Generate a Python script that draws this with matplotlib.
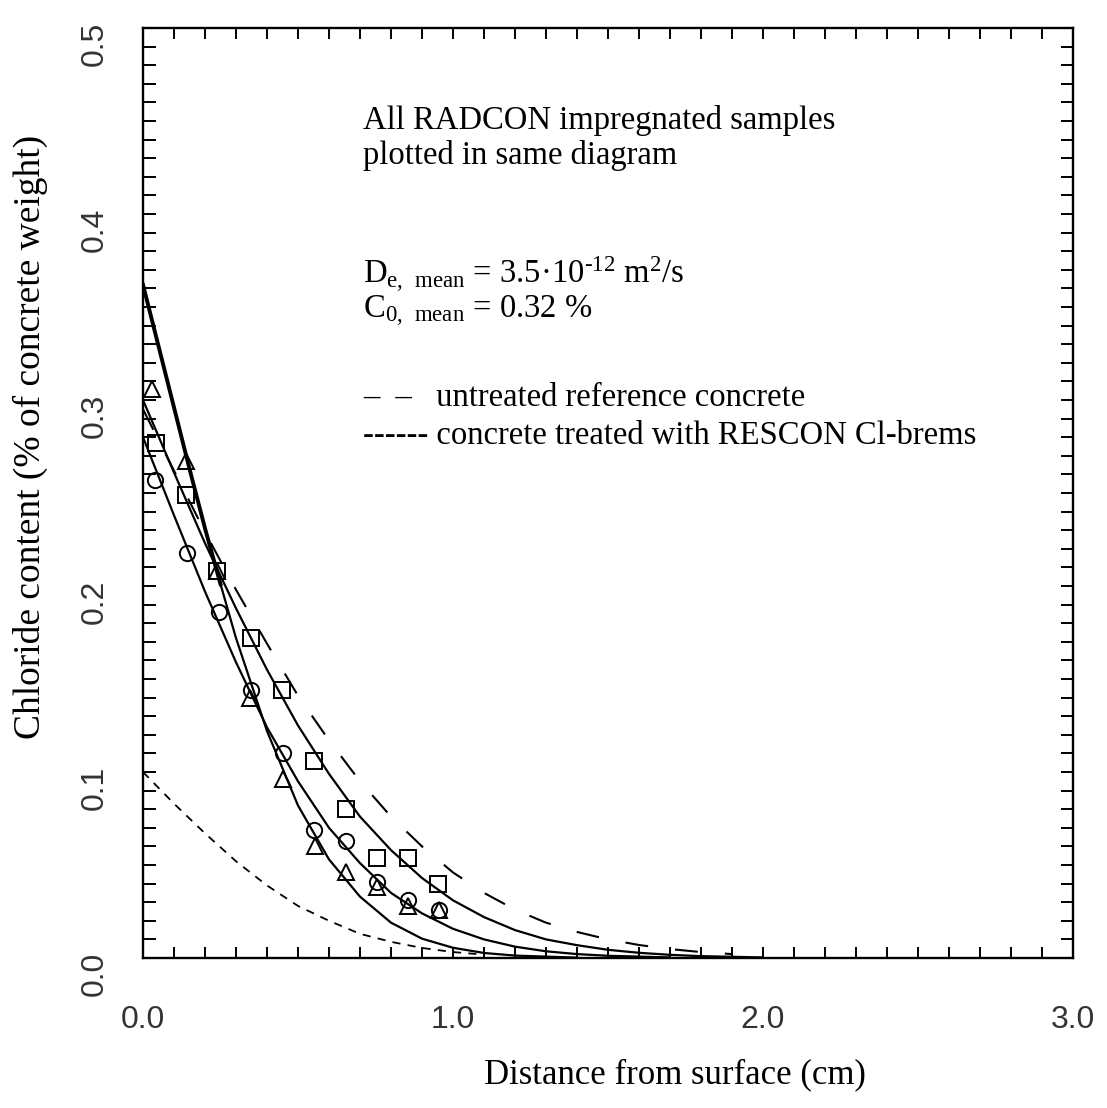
import numpy as np
import matplotlib
matplotlib.use("Agg")
import matplotlib.pyplot as plt
import matplotlib.transforms as mtransforms

plt.rcParams["font.family"] = ["Liberation Serif", "DejaVu Serif"]
plt.rcParams["mathtext.fontset"] = "custom"
plt.rcParams["mathtext.rm"] = "Liberation Serif"
plt.rcParams["mathtext.default"] = "regular"

# measured samples (depth in cm, chloride % of concrete weight)
tri_x = [0.03, 0.14, 0.24, 0.344, 0.452, 0.554, 0.656, 0.756, 0.856, 0.955]
tri_y = [0.306, 0.267, 0.208, 0.140, 0.096, 0.060, 0.046, 0.038, 0.028, 0.026]
sq_x = [0.041, 0.14, 0.24, 0.347, 0.449, 0.552, 0.654, 0.756, 0.855, 0.953]
sq_y = [0.277, 0.249, 0.208, 0.172, 0.144, 0.106, 0.080, 0.054, 0.054, 0.040]
circ_x = [0.039, 0.143, 0.245, 0.347, 0.452, 0.552, 0.654, 0.756, 0.856, 0.955]
circ_y = [0.257, 0.218, 0.186, 0.144, 0.110, 0.069, 0.063, 0.041, 0.031, 0.026]

# fitted profiles
sq_fit_x = [0.0, 0.1, 0.2, 0.3, 0.4, 0.5, 0.6, 0.7, 0.8, 0.9, 1.0, 1.1, 1.2, 1.3, 1.4, 1.5, 1.6, 1.7, 1.8, 2.0]
sq_fit_y = [0.300, 0.261, 0.223, 0.188, 0.155, 0.125, 0.099, 0.076, 0.058, 0.043, 0.031, 0.022, 0.015,
            0.010, 0.0069, 0.0044, 0.0028, 0.0017, 0.0010, 0.0003]
circ_fit_x = [0.0, 0.1, 0.2, 0.3, 0.4, 0.5, 0.6, 0.7, 0.8, 0.9, 1.0, 1.1, 1.2, 1.3, 1.4, 1.5, 1.7]
circ_fit_y = [0.280, 0.238, 0.197, 0.159, 0.124, 0.095, 0.070, 0.051, 0.035, 0.024, 0.0157, 0.0100,
              0.0061, 0.0036, 0.0021, 0.0012, 0.0003]
tri_fit_x = [0.0, 0.05, 0.1, 0.15, 0.2, 0.25, 0.3, 0.4, 0.5, 0.6, 0.7, 0.8, 0.9, 1.0, 1.1, 1.2, 1.4]
tri_fit_y = [0.362, 0.329, 0.296, 0.263, 0.231, 0.201, 0.172, 0.122, 0.082, 0.053, 0.033, 0.019,
             0.0104, 0.0055, 0.0027, 0.0013, 0.0002]
ref_x = [0.0, 0.1, 0.2, 0.3, 0.4, 0.5, 0.6, 0.7, 0.8, 0.9, 1.0, 1.1, 1.2, 1.3, 1.4, 1.5, 1.6, 1.7, 1.8, 1.9]
ref_y = [0.295, 0.262, 0.229, 0.198, 0.169, 0.141, 0.117, 0.095, 0.076, 0.060, 0.046, 0.035, 0.026,
         0.019, 0.014, 0.010, 0.0070, 0.0048, 0.0032, 0.0021]
resc_x = [0.0, 0.1, 0.2, 0.3, 0.4, 0.5, 0.6, 0.7, 0.8, 0.9, 1.0, 1.1]
resc_y = [0.100, 0.083, 0.067, 0.052, 0.039, 0.028, 0.020, 0.013, 0.0087, 0.0054, 0.0032, 0.0018]

W, H = 1107, 1108
fig = plt.figure(figsize=(W / 100, H / 100), dpi=100)
ax = fig.add_axes([143 / W, 1 - 958 / H, 930 / W, 930 / H])


def fx(px):
    return px / W


def fy(py):
    return 1 - py / H


lw = 1.6
ax.plot(sq_fit_x, sq_fit_y, color="k", lw=lw)
ax.plot(circ_fit_x, circ_fit_y, color="k", lw=lw)
ax.plot(tri_fit_x, tri_fit_y, color="k", lw=lw)
ax.plot(tri_fit_x[:6], tri_fit_y[:6], color="k", lw=2.8)
ax.plot(ref_x, ref_y, color="k", lw=1.5, dashes=(11, 13))
ax.plot(resc_x, resc_y, color="k", lw=1.3, dashes=(4.5, 4))

mk = dict(ls="none", mfc="none", mec="k", mew=1.4, ms=11)
ax.plot(tri_x, tri_y, marker="^", **mk)
ax.plot(sq_x, sq_y, marker="s", **mk)
ax.plot(circ_x, circ_y, marker="o", **mk)

ax.set_xlim(0, 3)
ax.set_ylim(0, 0.5)
ax.set_xticks([0, 1, 2, 3])
ax.set_xticks(np.arange(0, 3.001, 0.1), minor=True)
ax.set_yticks(np.arange(0, 0.5001, 0.1))
ax.set_yticks(np.arange(0, 0.5001, 0.01), minor=True)
ax.tick_params(which="both", direction="in", top=True, right=True, width=1.4, color="k")
ax.tick_params(axis="x", which="both", length=8)
ax.tick_params(axis="y", which="both", length=9)
ax.tick_params(axis="x", which="major", pad=34, labelsize=23, labelcolor="#333333")
ax.tick_params(axis="y", which="major", pad=24, labelsize=23, labelcolor="#333333")
for s in ax.spines.values():
    s.set_linewidth(1.7)

ax.set_xticklabels(["0.0", "1.0", "2.0", "3.0"], family="Liberation Sans")
ax.set_yticklabels(["0.0", "0.1", "0.2", "0.3", "0.4", "0.5"], family="Liberation Sans",
                   rotation=90, va="center")
off = mtransforms.ScaledTranslation(0, -16 / 100, fig.dpi_scale_trans)
for lab in ax.get_yticklabels():
    lab.set_transform(lab.get_transform() + off)

fig.text(fx(675), fy(1075), "Distance from surface (cm)", fontsize=25, ha="center", va="center")
fig.text(fx(30), fy(437), "Chloride content (% of concrete weight)", fontsize=27,
         rotation=90, ha="center", va="center")

ts = 23.5
tx = fx(363)
fig.text(tx, fy(129), "All RADCON impregnated samples", fontsize=ts, va="baseline")
fig.text(tx, fy(164), "plotted in same diagram", fontsize=ts, va="baseline")
fig.text(tx, fy(283), r"D$_{\rm e,\ mean}$ = 3.5·10$^{\text{-12}}$ m$^{\rm 2}$/s", fontsize=ts,
         va="baseline")
fig.text(tx, fy(318), r"C$_{\rm 0,\ mean}$ = 0.32 %", fontsize=ts, va="baseline")
fig.text(tx, fy(406), "–  –   untreated reference concrete", fontsize=ts, va="baseline")
fig.text(tx, fy(444), "------ concrete treated with RESCON Cl-brems", fontsize=ts, va="baseline")

fig.savefig("out.png", dpi=100)
